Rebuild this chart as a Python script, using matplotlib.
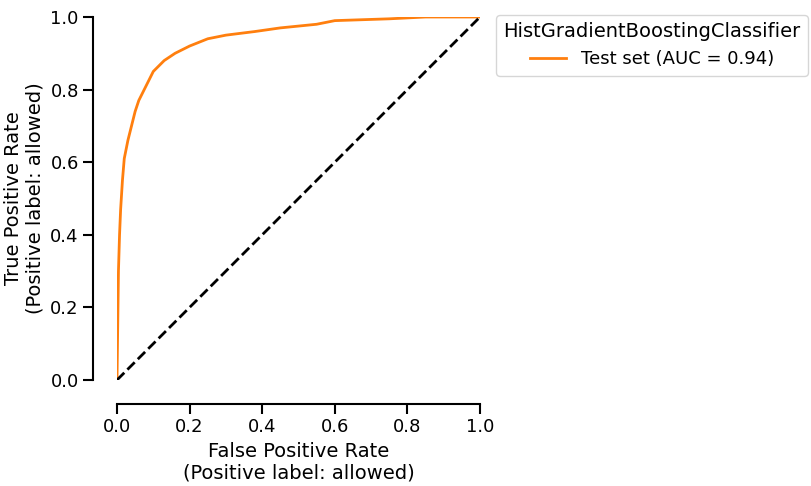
import matplotlib
matplotlib.use("Agg")
import matplotlib.pyplot as plt

fpr = [0, 0.002, 0.004, 0.007, 0.01, 0.015, 0.02, 0.03, 0.04, 0.05, 0.06, 0.08, 0.1, 0.13, 0.16, 0.2, 0.25, 0.3, 0.38, 0.45, 0.55, 0.6, 0.75, 0.85, 1.0]
tpr = [0, 0.15, 0.3, 0.4, 0.47, 0.55, 0.61, 0.66, 0.7, 0.74, 0.77, 0.81, 0.85, 0.88, 0.9, 0.92, 0.94, 0.95, 0.96, 0.97, 0.98, 0.99, 0.995, 1.0, 1.0]
label = "Test set (AUC = 0.94)"
legend_title = "HistGradientBoostingClassifier"

fig = plt.figure(figsize=(8.12, 4.86), dpi=100)
ax = fig.add_axes([117/812, 1-380/486, 363/812, 363/486])
ax.plot(fpr, tpr, color="#ff7f0e", lw=2, label=label)
ax.plot([0, 1], [0, 1], "k--", lw=2)
ax.set_xlim(0, 1); ax.set_ylim(0, 1)
ax.spines["top"].set_visible(False); ax.spines["right"].set_visible(False)
ax.spines["left"].set_position(("outward", 17))
ax.spines["bottom"].set_position(("outward", 17))
for s in ["left", "bottom"]:
    ax.spines[s].set_linewidth(1.5)
ax.tick_params(labelsize=13, width=1.5, length=7)
ax.set_xticks([0, 0.2, 0.4, 0.6, 0.8, 1.0])
ax.set_yticks([0, 0.2, 0.4, 0.6, 0.8, 1.0])
ax.set_xlabel("False Positive Rate\n(Positive label: allowed)", fontsize=14)
ax.set_ylabel("True Positive Rate\n(Positive label: allowed)", fontsize=14)
leg = ax.legend(title=legend_title, loc="upper left", bbox_to_anchor=(1.02, 1.03), fontsize=13, title_fontsize=14)
fig.savefig("out.png", dpi=100)
